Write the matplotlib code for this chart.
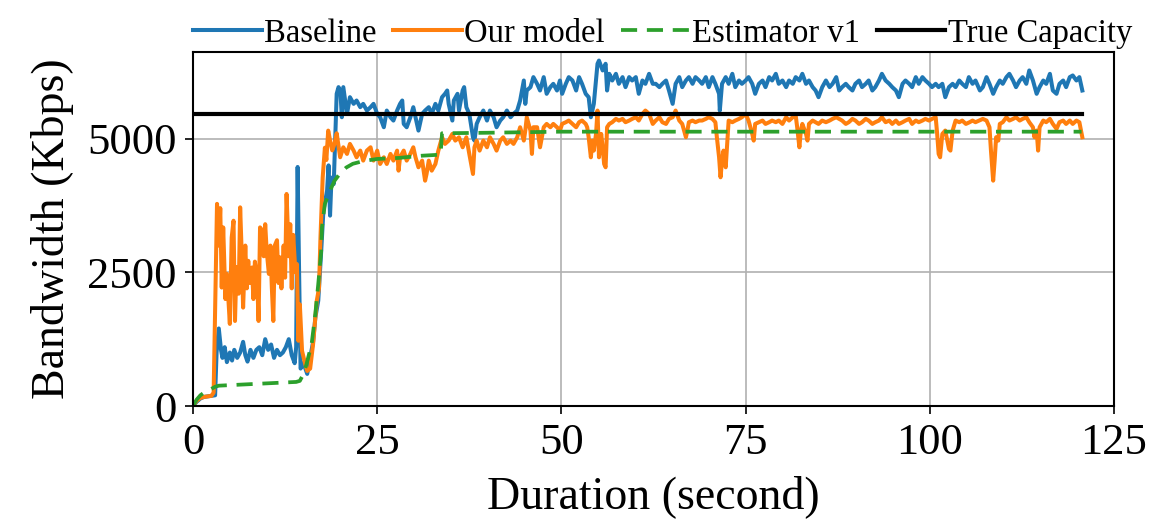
import matplotlib
matplotlib.use("Agg")
import matplotlib.pyplot as plt

plt.rcParams['font.family'] = ['Liberation Serif', 'DejaVu Serif']

# ---------------- data: (time s, Kbps) ----------------
baseline_pts = [
    (0, 0), (0.5, 80), (1, 140), (1.5, 170), (2, 180), (2.5, 190), (3.0, 200), (3.2, 1000), (3.5, 1450),
    (3.8, 1050), (4.0, 900), (4.3, 1100), (4.6, 820), (5.0, 1000), (5.3, 850), (5.6, 1050), (6.0, 900),
    (6.4, 1000), (6.8, 1200), (7.1, 950), (7.4, 830), (7.8, 1050), (8.2, 900), (8.6, 1050), (9.0, 1100),
    (9.4, 950), (9.8, 1250), (10.2, 1050), (10.6, 1150), (11.0, 900), (11.4, 1050), (11.8, 950),
    (12.2, 1000), (12.6, 1100), (13.0, 1250), (13.4, 950), (13.8, 800), (14.0, 1100), (14.2, 4470),
    (14.4, 2500), (14.6, 700), (15.0, 800), (15.5, 600), (15.9, 900), (16.3, 1200), (16.6, 1650),
    (17.0, 1970), (17.4, 2900), (17.7, 3650), (18.2, 4030), (18.4, 4500), (18.6, 3560), (18.8, 4270),
    (19.1, 4151), (19.3, 5026), (19.5, 5838), (19.75, 5963), (20.0, 5900), (20.2, 5400), (20.4, 5963),
    (20.9, 5463), (21.3, 5775), (21.8, 5650), (22.2, 5713), (22.7, 5588), (23.1, 5650), (23.6, 5525),
    (24.1, 5588), (24.5, 5650), (25.0, 5463), (25.4, 5400), (25.9, 5213), (26.3, 5525), (26.8, 5400),
    (27.2, 5338), (27.7, 5525), (28.1, 5650), (28.4, 5713), (28.6, 5275), (29.0, 5213), (29.5, 5400),
    (29.9, 5588), (30.2, 5400), (30.6, 5150), (31.1, 5463), (31.5, 5525), (32.0, 5588), (32.4, 5463),
    (32.9, 5650), (33.3, 5525), (33.8, 5775), (34.2, 5838), (34.5, 5900), (34.7, 5650), (35.2, 5338),
    (35.4, 5713), (35.9, 5838), (36.1, 5525), (36.6, 5900), (36.8, 5963), (37.1, 5588), (37.5, 5463),
    (38.0, 5025), (38.2, 4963), (38.5, 5275), (38.9, 5400), (39.4, 5525), (39.9, 5338), (40.3, 5525),
    (40.8, 5400), (41.2, 5213), (41.7, 5338), (42.1, 5400), (42.6, 5525), (43.1, 5400), (43.5, 5463),
    (44.0, 5525), (44.4, 5713), (44.9, 6087), (45.1, 5650), (45.3, 5900), (45.8, 5963), (46.2, 6150),
    (46.7, 6025), (47.1, 5900), (47.6, 6150), (48.0, 5838), (48.5, 5963), (48.9, 6025), (49.4, 5900),
    (49.8, 6087), (50.1, 5838), (50.6, 6025), (51.0, 6150), (51.5, 6087), (52.0, 5900), (52.4, 6150),
    (52.8, 6025), (53.3, 5838), (53.7, 5775), (54.0, 5400), (54.4, 5650), (54.9, 6400), (55.1, 6460),
    (55.6, 6275), (56.0, 6400), (56.2, 5900), (56.5, 6212), (56.9, 6087), (57.4, 6212), (57.8, 6025),
    (58.3, 6150), (58.7, 5963), (59.2, 6150), (59.6, 6087), (60.1, 6150), (60.5, 5838), (61.0, 6087),
    (61.4, 6025), (61.9, 6212), (62.4, 6025), (62.8, 6025), (63.3, 5963), (63.7, 6025), (64.2, 6087),
    (64.6, 5900), (65.1, 5650), (65.5, 6025), (66.0, 6150), (66.4, 5963), (66.9, 6087), (67.3, 6150),
    (67.8, 6025), (68.2, 6150), (68.7, 6087), (69.1, 6025), (69.6, 6150), (70.0, 5963), (70.5, 6150),
    (70.9, 6025), (71.4, 5838), (71.5, 5525), (71.8, 6025), (72.3, 6150), (72.7, 6025), (73.2, 6212),
    (73.6, 5963), (74.1, 6087), (74.5, 6025), (75.0, 6087), (75.4, 6150), (75.9, 6025), (76.3, 5838),
    (76.8, 6025), (77.3, 6087), (77.7, 5963), (78.2, 6150), (78.6, 6087), (79.1, 6212), (79.5, 6025),
    (80.0, 6087), (80.5, 5963), (80.9, 6087), (81.4, 6025), (81.8, 6150), (82.3, 6087), (82.7, 6212),
    (83.2, 6025), (83.6, 6087), (84.1, 5963), (84.5, 5900), (84.9, 5775), (85.4, 5963), (85.9, 6087),
    (86.4, 5963), (86.8, 6025), (87.3, 6150), (87.7, 5900), (88.1, 5963), (88.6, 6025), (89.0, 5963),
    (89.5, 5900), (89.9, 6025), (90.4, 6087), (90.8, 5963), (91.3, 6025), (91.7, 6087), (92.2, 5900),
    (92.6, 5963), (93.1, 6087), (93.5, 6212), (94.0, 6087), (94.5, 6025), (94.9, 5963), (95.4, 5900),
    (95.8, 5775), (96.3, 6025), (96.7, 6087), (97.2, 6025), (97.6, 5963), (98.1, 6150), (98.5, 6025),
    (99.0, 6150), (99.4, 6087), (99.9, 6025), (100.3, 5963), (100.8, 6025), (101.2, 5963), (101.7, 6025),
    (102.1, 5775), (102.6, 5963), (103.1, 6025), (103.5, 5963), (104.0, 6087), (104.4, 6025),
    (104.9, 5963), (105.3, 6150), (105.8, 6025), (106.2, 6087), (106.8, 5900), (107.2, 5963),
    (107.7, 6150), (108.1, 6025), (108.6, 5838), (109.0, 5963), (109.5, 6087), (109.9, 6025),
    (110.4, 6150), (110.8, 6212), (111.3, 6087), (111.7, 5963), (112.2, 6087), (112.6, 6150),
    (113.1, 6025), (113.5, 6275), (114.0, 6087), (114.5, 5838), (114.9, 5963), (115.4, 6087),
    (115.8, 6025), (116.3, 6212), (116.7, 5900), (117.2, 5838), (117.6, 6025), (118.1, 6087),
    (118.5, 5963), (119.0, 6150), (119.4, 6181), (119.9, 6087), (120.3, 6150), (120.7, 5900),
]

model_pts = [
    (0, 0), (0.5, 100), (1.0, 150), (1.5, 170), (2.0, 180), (2.5, 190), (2.8, 250), (3.0, 1780),
    (3.26, 3780), (3.5, 3000), (3.7, 3700), (3.9, 2215), (4.1, 3340), (4.4, 2000), (4.6, 2470),
    (5.0, 1535), (5.25, 3150), (5.5, 3465), (5.7, 1590), (5.9, 2600), (6.2, 2100), (6.4, 3715),
    (6.6, 2900), (6.8, 1840), (7.1, 3000), (7.3, 2200), (7.5, 2715), (7.7, 2300), (8.0, 2590),
    (8.2, 2000), (8.4, 2700), (8.7, 2400), (8.9, 1590), (9.1, 3340), (9.3, 3300), (9.6, 2800),
    (9.8, 3400), (10.0, 2900), (10.3, 2470), (10.5, 3000), (10.7, 2215), (10.9, 1590), (11.1, 3000),
    (11.4, 3100), (11.6, 2300), (11.8, 2780), (12.0, 2200), (12.3, 3000), (12.5, 2400), (12.7, 3965),
    (13.0, 2800), (13.2, 3400), (13.4, 2200), (13.6, 3200), (13.9, 2500), (14.1, 2655), (14.3, 1220),
    (14.5, 1900), (14.8, 1030), (15.2, 800), (15.5, 655), (15.9, 700), (16.3, 1160), (16.8, 1970),
    (17.1, 2200), (17.3, 3150), (17.6, 4270), (17.9, 4830), (18.1, 4600), (18.35, 5150), (18.6, 4970),
    (18.9, 4780), (19.2, 4900), (19.5, 5100), (19.97, 4651), (20.4, 4838), (20.9, 4714), (21.3, 4901),
    (21.8, 4776), (22.2, 4651), (22.7, 4776), (23.1, 4589), (23.6, 4776), (24.1, 4838), (24.5, 4589),
    (25.0, 4776), (25.4, 4526), (25.9, 4651), (26.3, 4526), (26.8, 4714), (27.2, 4589), (27.7, 4776),
    (27.9, 4401), (28.1, 4651), (28.6, 4776), (29.0, 4589), (29.5, 4714), (29.9, 4838), (30.2, 4651),
    (30.6, 4464), (31.1, 4589), (31.5, 4214), (31.7, 4339), (32.0, 4589), (32.4, 4401), (32.9, 4526),
    (33.3, 4776), (33.8, 5025), (34.2, 4901), (34.7, 4963), (35.2, 5088), (35.6, 4963), (36.1, 5025),
    (36.6, 4838), (37.1, 5025), (37.5, 4714), (38.0, 4339), (38.2, 4838), (38.5, 4963), (38.9, 4776),
    (39.4, 4963), (39.9, 4838), (40.3, 5025), (40.8, 4901), (41.2, 4776), (41.7, 4963), (42.1, 5025),
    (42.6, 4901), (43.1, 4963), (43.5, 4901), (44.0, 5025), (44.4, 5213), (44.9, 4963), (45.1, 5150),
    (45.3, 5400), (45.8, 5150), (46.0, 4714), (46.2, 5213), (46.7, 5213), (47.1, 4838), (47.6, 5213),
    (48.0, 5275), (48.5, 5213), (48.9, 5275), (49.4, 5213), (49.8, 5150), (50.1, 5275), (50.6, 5307),
    (51.0, 5338), (51.5, 5275), (52.0, 5213), (52.4, 5307), (52.8, 5338), (53.3, 5275), (53.5, 5213),
    (53.7, 5026), (54.0, 4651), (54.2, 4963), (54.4, 4776), (54.7, 5088), (54.9, 5525), (55.1, 4651),
    (55.4, 5088), (55.6, 4838), (55.8, 4526), (56.0, 4464), (56.2, 5213), (56.5, 5275), (56.9, 5307),
    (57.4, 5369), (57.8, 5338), (58.3, 5369), (58.7, 5307), (59.2, 5338), (59.6, 5369), (60.1, 5400),
    (60.5, 5338), (61.0, 5463), (61.4, 5525), (61.9, 5463), (62.4, 5275), (62.8, 5338), (63.3, 5400),
    (63.7, 5307), (64.2, 5275), (64.6, 5369), (65.1, 5400), (65.5, 5525), (66.0, 5338), (66.4, 5275),
    (66.9, 5026), (67.1, 5151), (67.3, 5307), (67.8, 5338), (68.2, 5307), (68.7, 5338), (69.1, 5338),
    (69.6, 5369), (70.0, 5400), (70.5, 5369), (70.9, 5307), (71.1, 5026), (71.4, 4651), (71.6, 4277),
    (71.8, 4589), (72.0, 4776), (72.3, 4464), (72.5, 4901), (72.7, 5338), (73.2, 5307), (73.6, 5338),
    (74.1, 5369), (74.5, 5400), (75.0, 5463), (75.4, 5338), (75.9, 5088), (76.1, 4963), (76.3, 5275),
    (76.8, 5307), (77.3, 5338), (77.7, 5275), (78.2, 5307), (78.6, 5338), (79.1, 5307), (79.5, 5338),
    (80.0, 5275), (80.5, 5400), (80.9, 5338), (81.4, 5400), (81.8, 5432), (82.0, 5213), (82.3, 4838),
    (82.5, 5151), (82.7, 5275), (83.2, 5088), (83.4, 4963), (83.6, 5275), (84.1, 5338), (84.5, 5307),
    (84.9, 5275), (85.4, 5338), (85.9, 5307), (86.4, 5338), (86.8, 5369), (87.3, 5400), (87.7, 5369),
    (88.1, 5338), (88.6, 5275), (89.0, 5307), (89.5, 5369), (89.9, 5338), (90.4, 5275), (90.8, 5307),
    (91.3, 5369), (91.7, 5338), (92.2, 5275), (92.6, 5307), (93.1, 5338), (93.5, 5400), (94.0, 5307),
    (94.5, 5338), (94.9, 5275), (95.4, 5338), (95.8, 5275), (96.3, 5307), (96.7, 5338), (97.2, 5369),
    (97.6, 5275), (98.1, 5338), (98.5, 5307), (99.0, 5338), (99.4, 5369), (99.9, 5338), (100.3, 5369),
    (100.8, 5400), (101.0, 5088), (101.2, 4714), (101.4, 4651), (101.7, 5088), (102.1, 5151),
    (102.6, 4807), (102.8, 4776), (103.1, 5151), (103.5, 5338), (104.0, 5307), (104.4, 5338),
    (104.9, 5275), (105.4, 5307), (105.8, 5338), (106.2, 5307), (106.7, 5338), (107.2, 5369),
    (107.7, 5338), (108.1, 5213), (108.3, 4776), (108.6, 4214), (108.8, 4589), (109.0, 5026),
    (109.3, 4963), (109.5, 5275), (109.9, 5307), (110.4, 5400), (110.8, 5338), (111.3, 5369),
    (111.7, 5400), (112.2, 5338), (112.6, 5369), (113.1, 5400), (113.5, 5307), (114.0, 5213),
    (114.2, 5026), (114.5, 5151), (114.7, 4776), (114.9, 5213), (115.4, 5338), (115.8, 5307),
    (116.3, 5369), (116.7, 5275), (117.2, 5182), (117.6, 5307), (118.1, 5338), (118.5, 5275),
    (119.0, 5338), (119.4, 5275), (119.9, 5338), (120.3, 5307), (120.7, 5026),
]

estimator_pts = [
    (0, 0), (0.5, 120), (1.0, 200), (1.5, 250), (2.0, 280), (2.5, 320), (3.0, 360), (3.5, 380),
    (5.0, 390), (8.0, 410), (11.0, 430), (14.0, 450), (14.5, 470), (15.0, 600), (15.4, 780),
    (16.1, 1160), (16.6, 1720), (17.0, 2280), (17.4, 2900), (17.5, 3340), (17.9, 3780), (18.6, 4030),
    (19.2, 4210), (19.9, 4340), (20.8, 4460), (21.7, 4530), (23.1, 4580), (25.0, 4620), (28.0, 4640),
    (31.0, 4680), (33.6, 4700), (33.8, 5100), (40.0, 5110), (50.0, 5130), (120.6, 5130),
]

capacity_t = [0, 120.6]
capacity_v = [5460, 5460]

labels = ['Baseline', 'Our model', 'Estimator v1', 'True Capacity']
x_ticks = [0, 25, 50, 75, 100, 125]
y_ticks = [0, 2500, 5000]

baseline_t, baseline_v = zip(*baseline_pts)
model_t, model_v = zip(*model_pts)
estimator_t, estimator_v = zip(*estimator_pts)

# ---------------- plot ----------------
fig = plt.figure(figsize=(11.58, 5.22), dpi=100)
ax = fig.add_axes([193 / 1158, 116 / 522, 921 / 1158, 354 / 522])

ax.plot(baseline_t, baseline_v, color='#1f77b4', lw=2.9, label=labels[0])
ax.plot(model_t, model_v, color='#ff7f0e', lw=2.9, label=labels[1])
ax.plot(estimator_t, estimator_v, color='#2ca02c', lw=2.7, ls=(0, (4.3, 2.6)), label=labels[2])
ax.plot(capacity_t, capacity_v, color='black', lw=3.0, label=labels[3])

ax.set_xlim(0, 125)
ax.set_ylim(0, 6620)
ax.set_xticks(x_ticks)
ax.set_yticks(y_ticks)
ax.grid(True, color='#b0b0b0', lw=1.2)
ax.set_axisbelow(True)
ax.tick_params(axis='both', labelsize=32, direction='out', length=6, width=1.2, pad=6)
for s in ax.spines.values():
    s.set_linewidth(1.5)

ax.set_xlabel('Duration (second)', fontsize=33, labelpad=9)
ax.set_ylabel('Bandwidth (Kbps)', fontsize=33, labelpad=9)

ax.legend(loc='lower center', bbox_to_anchor=(0.51, 1.0), ncol=4, frameon=False,
          fontsize=23.5, handlelength=2.1, handletextpad=0.08, columnspacing=0.5,
          borderaxespad=0.1, borderpad=0.0)

fig.savefig('out.png', dpi=100)
